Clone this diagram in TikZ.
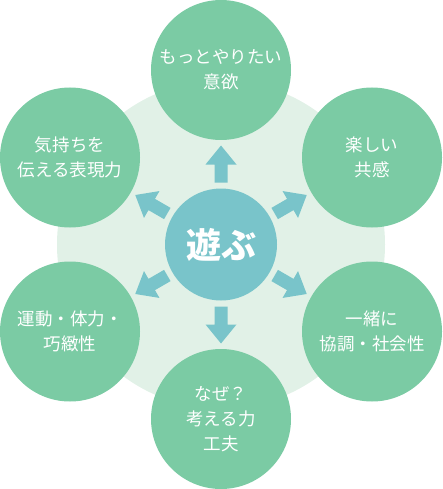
\documentclass[tikz,border=0pt]{standalone}
\usepackage{fontspec}
\newfontfamily\cjk{Noto Sans CJK JP}
\definecolor{ringgreen}{HTML}{7BCBA4}
\definecolor{coreteal}{HTML}{79C4CA}
\definecolor{bglight}{HTML}{E1F1E7}
\tikzset{
  outer/.style={circle, fill=ringgreen, minimum size=140pt, inner sep=0pt,
    text=white, align=center, font=\cjk\fontsize{17.5}{25}\selectfont},
  core/.style={circle, fill=coreteal, minimum size=112pt, inner sep=0pt,
    text=white, font=\cjk\bfseries\fontsize{35}{40}\selectfont},
  blockarrow/.style={fill=coreteal}
}
\begin{document}
\begin{tikzpicture}[x=1pt,y=-1pt]
\useasboundingbox (0,0) rectangle (442,489);
\fill[bglight] (221,244.5) circle (164pt);
\node[core] (c) at (221,244.5) {遊ぶ};
\node[outer] (t) at (221,70) {もっとやりたい\\意欲};
\node[outer] (tr) at (372,157.5) {楽しい\\共感};
\node[outer] (br) at (372,331.5) {一緒に\\協調・社会性};
\node[outer] (b) at (221,419) {なぜ？\\考える力\\工夫};
\node[outer] (bl) at (70,331.5) {運動・体力・\\巧緻性};
\node[outer] (tl) at (70,157.5) {気持ちを\\伝える表現力};
\foreach \a in {90,30,-30,-90,-150,150}{
  \begin{scope}[shift={(c.center)}, rotate=\a]
    \fill[blockarrow] (62pt,-6.5pt) -- (80pt,-6.5pt) -- (80pt,-15.5pt) -- (99pt,0pt)
      -- (80pt,15.5pt) -- (80pt,6.5pt) -- (62pt,6.5pt) -- cycle;
  \end{scope}
}
\end{tikzpicture}
\end{document}
